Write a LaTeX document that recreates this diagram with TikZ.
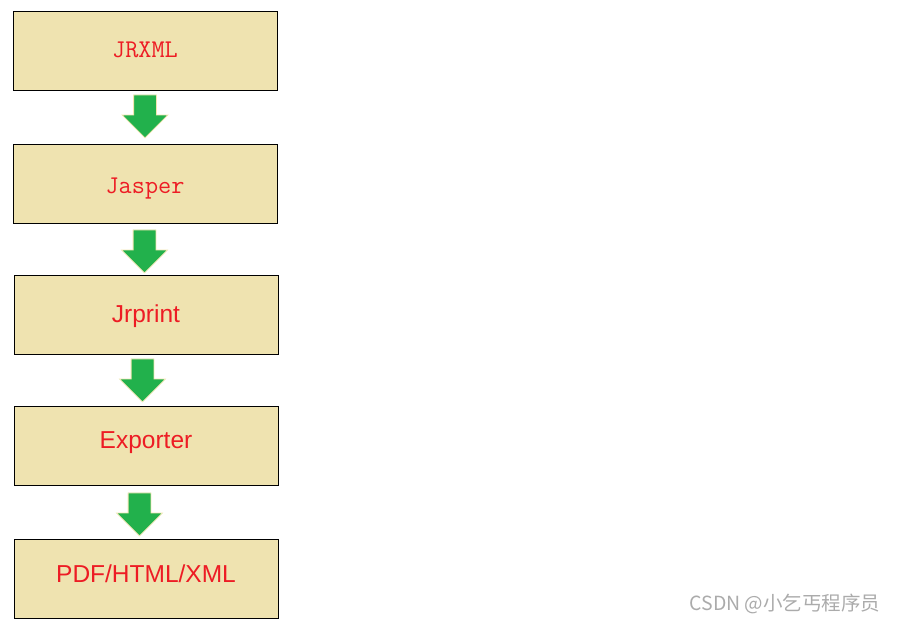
\documentclass[tikz,border=0pt]{standalone}
\usepackage{fontspec}
\setmainfont{Liberation Sans}
\newfontfamily\cjk{Noto Sans CJK SC}
\usetikzlibrary{shapes.arrows, positioning}
\definecolor{boxfill}{HTML}{EFE3B0}
\definecolor{labelred}{HTML}{ED1C24}
\definecolor{arrowgreen}{HTML}{22B14C}
\definecolor{arrowedge}{HTML}{F2E6B0}
\definecolor{markgray}{HTML}{ABABAB}
\tikzset{
  stage/.style={
    rectangle,
    draw,
    fill=boxfill,
    line width=1pt,
    minimum width=264pt,
    minimum height=79pt,
    inner sep=0pt,
    text height=20pt,
    text=labelred,
    font=\fontsize{24.5}{24.5}\selectfont
  },
  codestage/.style={
    stage,
    font=\ttfamily\fontsize{25.5}{25.5}\selectfont
  },
  flow/.style={
    single arrow,
    draw=arrowedge,
    fill=arrowgreen,
    line width=0.8pt,
    shape border rotate=270,
    minimum height=43pt,
    single arrow head extend=11.5pt,
    inner sep=11pt
  }
}

\begin{document}
\begin{tikzpicture}[x=1pt, y=-1pt]
  \useasboundingbox (0,0) rectangle (897,622);

  \node[codestage, text depth=7pt] (jrxml) at (145,50.5) {JRXML};
  \node[codestage, text depth=1pt] (jasper) at (145,183.5) {Jasper};
  \node[stage, text depth=5pt] (jrprint) at (146,314.5) {Jrprint};
  \node[stage, text depth=15pt] (exporter) at (146,445.5) {Exporter};
  \node[stage, text depth=13pt] (output) at (146,578.5) {PDF/HTML/XML};

  % block arrows between the stages
  \node[flow, below=4pt of jrxml] (step1) {};
  \node[flow, below=6pt of jasper, xshift=-0.5pt] (step2) {};
  \node[flow, below=4pt of jrprint, xshift=-3.5pt] (step3) {};
  \node[flow, below=7pt of exporter, xshift=-6.5pt] (step4) {};

  \node[text=markgray, font=\cjk\fontsize{19.5}{19.5}\selectfont] (mark) at (785,604)
        {CSDN @小乞丐程序员};
\end{tikzpicture}
\end{document}
